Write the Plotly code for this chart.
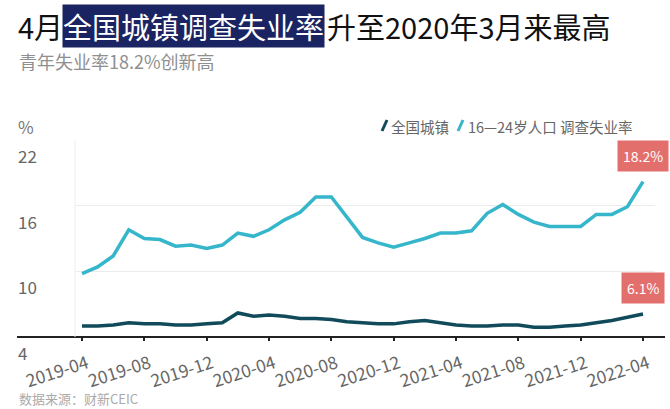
import pandas as pd
import plotly.graph_objects as go

# monthly categories, 2019-04 .. 2022-04
months = [p.strftime("%Y-%m") for p in pd.period_range("2019-04", "2022-04", freq="M")]

urban = [5.0, 5.0, 5.1, 5.3, 5.2, 5.2, 5.1, 5.1, 5.2,
         5.3, 6.2, 5.9, 6.0, 5.9, 5.7, 5.7, 5.6, 5.4, 5.3, 5.2, 5.2,
         5.4, 5.5, 5.3, 5.1, 5.0, 5.0, 5.1, 5.1, 4.9, 4.9, 5.0, 5.1,
         5.3, 5.5, 5.8, 6.1]
youth = [9.8, 10.4, 11.4, 13.8, 13.0, 12.9, 12.3, 12.4, 12.1,
         12.4, 13.5, 13.2, 13.8, 14.7, 15.4, 16.8, 16.8, 14.9, 13.1, 12.6, 12.2,
         12.6, 13.0, 13.5, 13.5, 13.7, 15.3, 16.1, 15.2, 14.5, 14.1, 14.1, 14.1,
         15.2, 15.2, 15.9, 18.2]

series_names = ["全国城镇", "16—24岁人口 调查失业率"]
series_colors = ["#114b5b", "#35b6ca"]
y_ticks = [4, 10, 16, 22]
x_ticks = months[::4]

title_parts = ["4月", "全国城镇调查失业率", "升至2020年3月来最高"]
subtitle = "青年失业率18.2%创新高"
source = "数据来源：财新CEIC"

FONT = "Noto Sans CJK SC"

# plot area in pixels (670x409 page)
L, R, T, B = 75, 655, 140, 337
W, H = R - L, B - T


def px_x(p):
    return (p - L) / W


def px_y(p):
    return (B - p) / H


fig = go.Figure()
for vals, name, col in zip([urban, youth], series_names, series_colors):
    fig.add_trace(go.Scatter(x=months, y=vals, name=name, mode="lines",
                             line=dict(color=col, width=3.5), showlegend=False))

ann = []
# title with highlighted middle part
ann.append(dict(text=title_parts[0], x=px_x(17), y=px_y(26), xanchor="left", yanchor="middle",
                font=dict(size=29, color="#111"), borderpad=0))
ann.append(dict(text=title_parts[1], x=px_x(62), y=px_y(26), xanchor="left", yanchor="middle",
                font=dict(size=29, color="white"), bgcolor="#1b2463", borderpad=0))
ann.append(dict(text=title_parts[2], x=px_x(326), y=px_y(26), xanchor="left", yanchor="middle",
                font=dict(size=29, color="#111"), borderpad=0))
ann.append(dict(text=subtitle, x=px_x(17), y=px_y(61), xanchor="left", yanchor="middle",
                font=dict(size=18, color="#8f8f8f")))
ann.append(dict(text="%", x=px_x(16), y=px_y(126), xanchor="left", yanchor="middle",
                font=dict(size=17, color="#777")))
# legend texts
ann.append(dict(text=series_names[0], x=px_x(389), y=px_y(126), xanchor="left", yanchor="middle",
                font=dict(size=14.5, color="#666")))
ann.append(dict(text=series_names[1], x=px_x(466), y=px_y(126), xanchor="left", yanchor="middle",
                font=dict(size=14.5, color="#666")))
# y tick labels sit below their gridlines
for v in y_ticks:
    ann.append(dict(text=str(v), x=px_x(16), y=v, yref="y", xanchor="left", yanchor="top",
                    yshift=-1, font=dict(size=17, color="#666")))
# value callouts on last points
for vals in [youth, urban]:
    ann.append(dict(text=f"{vals[-1]}%", x=months[-1], y=vals[-1], xref="x", yref="y",
                    showarrow=True, ax=0, ay=-26, arrowhead=2, arrowsize=1.2, arrowwidth=2.5,
                    arrowcolor="#e36f6c", standoff=7, bgcolor="#e36f6c", borderpad=5,
                    font=dict(size=14, color="white")))
ann.append(dict(text=source, x=px_x(17), y=px_y(398), xanchor="left", yanchor="middle",
                font=dict(size=13, color="#aaa")))

for a in ann:
    a.setdefault("xref", "paper")
    a.setdefault("yref", "paper")
    a.setdefault("showarrow", False)

shapes = [
    # baseline extending beyond the plot area
    dict(type="line", xref="paper", yref="paper", x0=px_x(17), x1=px_x(665), y0=0, y1=0,
         line=dict(color="#222", width=2)),
    # faint left edge
    dict(type="line", xref="paper", yref="paper", x0=0, x1=0, y0=0, y1=1,
         line=dict(color="#eeeeee", width=1)),
    # legend slashes
    dict(type="line", xref="paper", yref="paper", x0=px_x(382), x1=px_x(387), y0=px_y(131), y1=px_y(120),
         line=dict(color=series_colors[0], width=3)),
    dict(type="line", xref="paper", yref="paper", x0=px_x(458), x1=px_x(463), y0=px_y(131), y1=px_y(120),
         line=dict(color=series_colors[1], width=3)),
]

fig.update_layout(
    width=670, height=409,
    margin=dict(l=L, r=670 - R, t=T, b=409 - B, autoexpand=False),
    paper_bgcolor="white", plot_bgcolor="white",
    font=dict(family=FONT, color="#666"),
    annotations=ann, shapes=shapes,
    xaxis=dict(type="category", range=[-0.45, 36.77], tickmode="array", tickvals=x_ticks,
               ticktext=x_ticks, tickangle=-18, tickfont=dict(size=17.5, color="#666"),
               ticklabelstandoff=6, ticklabelshift=5,
               ticks="outside", ticklen=3, tickwidth=2, tickcolor="#222", automargin=False,
               showgrid=False, showline=False, zeroline=False),
    yaxis=dict(range=[4, 22], tickvals=y_ticks, showticklabels=False, gridcolor="#ececec",
               gridwidth=1, zeroline=False, showline=False, automargin=False),
)

# drop the default page margin so the 670x409 figure fills the window
fig.write_html("out.html", config={"displayModeBar": False},
               post_script="document.body.style.margin='0';")
